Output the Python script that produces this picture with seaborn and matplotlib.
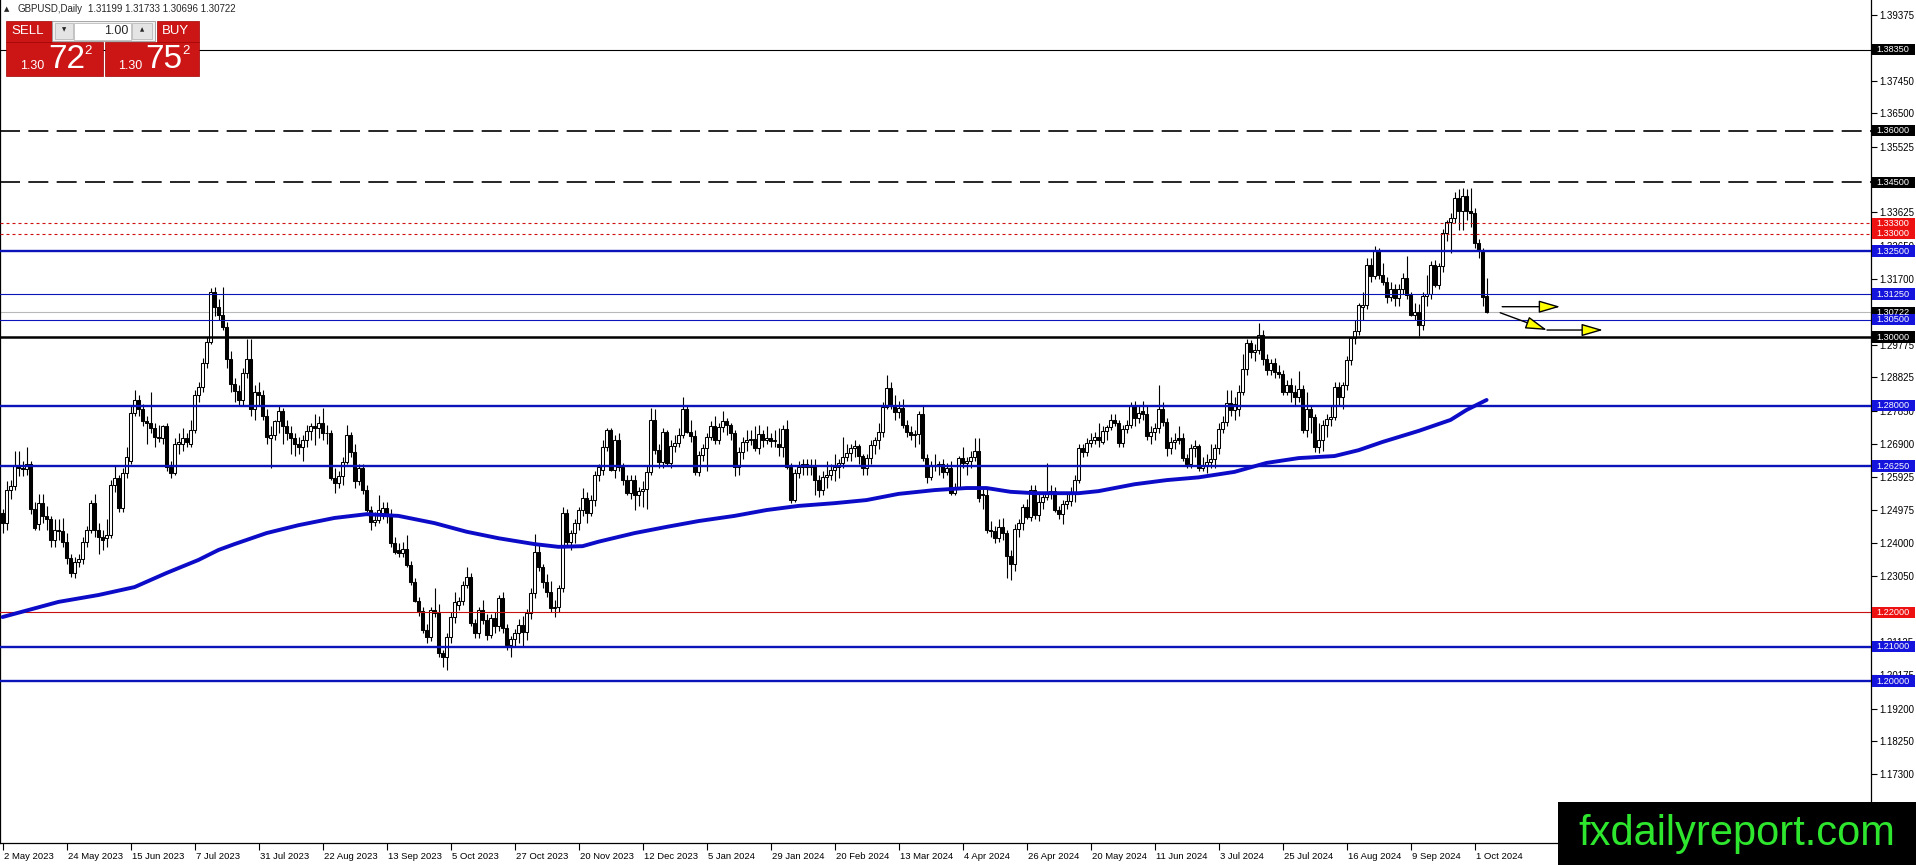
import numpy as np
import pandas as pd
import matplotlib
matplotlib.use("Agg")
import matplotlib.pyplot as plt
import matplotlib.transforms as mtrans
from matplotlib.patches import Rectangle
import seaborn as sns

sns.set_style("white")
plt.rcParams["font.family"] = ["Liberation Sans", "DejaVu Sans"]

# ---------------- data (prices in 1/10000) ----------------
opens = [
12487,12458,12555,12567,12625,12620,12615,12630,12500,12455,
12518,12480,12470,12410,12440,12435,12405,12357,12313,12345,
12355,12405,12440,12518,12440,12420,12415,12425,12570,12590,
12502,12605,12640,12780,12818,12790,12755,12750,12735,12705,
12705,12740,12623,12605,12690,12690,12705,12690,12730,12832,
12855,12925,12985,13130,13088,13065,13030,12935,12862,12842,
12818,12895,12935,12790,12840,12830,12770,12705,12715,12755,
12785,12740,12720,12705,12690,12680,12700,12728,12742,12735,
12750,12722,12720,12590,12575,12595,12637,12715,12667,12580,
12618,12555,12497,12463,12468,12487,12502,12480,12400,12380,
12373,12385,12337,12289,12233,12203,12148,12128,12206,12198,
12080,12070,12129,12187,12220,12232,12279,12303,12168,12139,
12206,12177,12133,12182,12160,12240,12153,12105,12121,12140,
12163,12143,12197,12255,12376,12332,12289,12260,12211,12216,
12269,12487,12405,12430,12458,12497,12531,12487,12526,12599,
12613,12681,12730,12613,12702,12623,12585,12546,12584,12541,
12552,12557,12609,12759,12671,12637,12725,12633,12683,12692,
12716,12792,12725,12712,12609,12657,12677,12710,12742,12701,
12737,12755,12745,12721,12623,12667,12696,12700,12703,12677,
12717,12701,12705,12698,12690,12679,12734,12623,12526,12604,
12623,12630,12622,12627,12585,12555,12594,12598,12613,12623,
12633,12652,12662,12677,12684,12654,12618,12647,12686,12700,
12725,12797,12851,12802,12783,12795,12744,12725,12715,12718,
12776,12647,12594,12628,12624,12630,12609,12620,12546,12565,
12648,12633,12640,12650,12669,12545,12540,12439,12435,12415,
12449,12429,12362,12340,12441,12458,12507,12478,12555,12482,
12521,12536,12545,12553,12497,12485,12516,12522,12550,12584,
12676,12667,12691,12700,12708,12695,12727,12738,12759,12751,
12691,12734,12745,12799,12764,12785,12777,12711,12725,12735,
12792,12754,12676,12695,12706,12706,12647,12632,12676,12684,
12618,12628,12636,12645,12676,12734,12754,12807,12788,12790,
12841,12906,12982,12957,12962,13006,12935,12904,12925,12899,
12893,12841,12860,12840,12826,12848,12730,12790,12768,12681,
12700,12744,12763,12768,12855,12825,12860,12934,12996,13018,
13088,13093,13209,13177,13253,13180,13161,13117,13141,13112,
13141,13171,13122,13064,13074,13035,13118,13125,13209,13151,
13205,13301,13335,13345,13403,13365,13410,13365,13360,13272,
13253,13120]

highs = [
12500,12580,12585,12668,12668,12640,12680,12640,12520,12545,
12545,12510,12480,12470,12470,12475,12430,12370,12360,12370,
12420,12450,12525,12545,12460,12440,12470,12585,12625,12600,
12620,12680,12800,12845,12830,12805,12770,12840,12750,12745,
12745,12750,12640,12705,12720,12735,12720,12760,12845,12870,
12940,13000,13142,13145,13110,13145,13045,12960,12880,12860,
12910,12995,12995,12860,12870,12845,12790,12740,12760,12800,
12795,12760,12740,12720,12710,12715,12745,12750,12775,12770,
12795,12745,12730,12620,12610,12650,12745,12725,12690,12630,
12630,12570,12510,12490,12540,12520,12520,12500,12420,12400,
12405,12425,12350,12300,12245,12215,12165,12215,12270,12225,
12090,12140,12200,12260,12245,12290,12330,12315,12180,12215,
12235,12195,12195,12200,12250,12260,12165,12130,12150,12180,
12190,12210,12270,12428,12395,12340,12310,12290,12235,12280,
12505,12500,12440,12470,12505,12560,12550,12540,12610,12630,
12700,12735,12735,12715,12720,12635,12600,12600,12600,12565,
12580,12625,12795,12790,12690,12735,12730,12700,12715,12735,
12827,12800,12760,12730,12670,12690,12720,12755,12770,12750,
12785,12765,12750,12730,12680,12710,12730,12730,12740,12745,
12730,12740,12720,12730,12735,12745,12760,12635,12615,12640,
12645,12645,12645,12645,12600,12610,12640,12630,12660,12645,
12710,12690,12690,12700,12690,12660,12660,12700,12710,12750,
12810,12890,12870,12830,12815,12820,12760,12740,12730,12785,
12803,12660,12640,12660,12640,12645,12635,12640,12575,12655,
12680,12650,12670,12706,12705,12560,12560,12465,12450,12470,
12475,12440,12380,12455,12470,12515,12530,12570,12570,12545,
12545,12634,12570,12565,12510,12525,12545,12565,12600,12690,
12690,12705,12720,12725,12750,12740,12745,12775,12775,12760,
12745,12760,12810,12815,12800,12815,12800,12740,12750,12860,
12810,12765,12710,12720,12740,12720,12660,12690,12700,12690,
12650,12660,12690,12690,12750,12770,12845,12845,12825,12860,
12950,12995,12990,12980,13040,13020,12950,12935,12940,12920,
12905,12875,12880,12860,12900,12860,12840,12800,12775,12750,
12760,12775,12800,12870,12870,12870,12945,13000,13050,13100,
13130,13230,13230,13264,13260,13215,13175,13160,13155,13155,
13185,13236,13130,13100,13095,13130,13180,13220,13225,13215,
13315,13340,13360,13423,13430,13434,13430,13434,13375,13285,
13260,13173]

lows = [
12430,12440,12530,12555,12595,12595,12600,12485,12440,12440,
12460,12440,12390,12390,12410,12390,12340,12303,12300,12330,
12340,12390,12430,12420,12370,12380,12390,12415,12550,12490,
12490,12590,12630,12770,12770,12740,12690,12720,12680,12695,
12690,12610,12590,12600,12660,12670,12680,12680,12720,12810,
12840,12910,12980,13060,13050,13020,12910,12840,12810,12800,
12800,12880,12770,12760,12800,12760,12690,12620,12700,12720,
12690,12700,12660,12655,12660,12640,12680,12700,12685,12705,
12700,12690,12585,12548,12560,12570,12630,12650,12560,12570,
12545,12490,12440,12450,12460,12470,12460,12390,12370,12360,
12360,12330,12280,12230,12190,12140,12110,12115,12185,12070,
12040,12032,12110,12170,12205,12220,12270,12160,12125,12125,
12165,12120,12125,12140,12145,12140,12090,12070,12100,12110,
12100,12120,12180,12240,12320,12270,12245,12200,12185,12200,
12260,12395,12380,12400,12440,12480,12460,12480,12510,12580,
12600,12670,12610,12590,12610,12570,12540,12530,12497,12510,
12505,12500,12600,12660,12620,12620,12625,12620,12665,12680,
12705,12720,12695,12600,12595,12640,12610,12700,12690,12690,
12725,12715,12700,12595,12600,12645,12670,12685,12670,12660,
12680,12690,12680,12680,12655,12650,12615,12517,12520,12590,
12600,12600,12600,12540,12535,12540,12560,12585,12580,12590,
12620,12640,12640,12650,12630,12600,12600,12630,12660,12675,
12710,12790,12790,12760,12765,12735,12710,12700,12680,12690,
12640,12575,12585,12610,12600,12590,12600,12540,12540,12560,
12620,12600,12620,12640,12520,12500,12430,12420,12400,12405,
12410,12300,12295,12320,12420,12440,12470,12465,12470,12465,
12500,12525,12530,12490,12470,12455,12500,12510,12520,12575,
12650,12655,12680,12690,12680,12690,12700,12730,12740,12680,
12680,12720,12735,12740,12750,12760,12700,12690,12700,12720,
12740,12655,12660,12675,12690,12640,12620,12620,12650,12610,
12610,12605,12620,12620,12660,12720,12740,12770,12760,12770,
12830,12890,12940,12930,12950,12920,12890,12890,12880,12880,
12830,12830,12810,12800,12810,12720,12710,12720,12665,12662,
12670,12710,12740,12760,12800,12790,12845,12920,12980,13005,
13050,13080,13160,13170,13170,13150,13100,13105,13090,13090,
13125,13110,13060,13050,13002,13020,13090,13110,13145,13140,
13190,13280,13245,13330,13312,13312,13340,13320,13260,13230,
13090,13070]

closes = [
12458,12555,12567,12625,12620,12615,12630,12500,12445,12518,
12480,12470,12410,12440,12435,12405,12357,12313,12345,12355,
12405,12440,12518,12440,12420,12410,12425,12570,12590,12502,
12605,12650,12780,12818,12790,12755,12750,12735,12710,12710,
12740,12623,12605,12690,12695,12705,12695,12730,12832,12855,
12925,12985,13130,13088,13065,13030,12935,12862,12842,12818,
12895,12935,12790,12840,12830,12770,12710,12715,12755,12785,
12740,12720,12705,12690,12680,12700,12728,12742,12735,12750,
12722,12720,12590,12575,12595,12637,12715,12667,12580,12618,
12555,12497,12463,12468,12497,12502,12480,12400,12376,12373,
12385,12337,12289,12233,12203,12148,12128,12206,12198,12080,
12070,12129,12187,12231,12232,12279,12303,12168,12139,12206,
12177,12133,12182,12160,12240,12153,12105,12121,12140,12163,
12143,12197,12255,12376,12332,12289,12260,12211,12216,12269,
12487,12405,12430,12458,12497,12531,12487,12526,12599,12623,
12681,12730,12613,12702,12623,12585,12546,12584,12541,12552,
12557,12609,12759,12671,12637,12725,12633,12683,12692,12716,
12792,12725,12712,12609,12657,12677,12710,12742,12701,12737,
12755,12745,12721,12623,12667,12696,12700,12703,12677,12717,
12701,12705,12698,12702,12679,12734,12623,12526,12604,12623,
12630,12622,12627,12585,12555,12594,12598,12613,12623,12633,
12652,12662,12677,12684,12654,12618,12647,12686,12700,12725,
12797,12851,12802,12783,12795,12744,12725,12715,12718,12776,
12647,12594,12628,12624,12630,12609,12620,12546,12565,12648,
12633,12640,12650,12669,12531,12540,12439,12435,12415,12449,
12429,12362,12340,12441,12458,12507,12478,12555,12482,12521,
12536,12545,12553,12497,12485,12516,12522,12550,12584,12676,
12667,12691,12700,12708,12700,12727,12738,12759,12751,12691,
12734,12745,12799,12764,12780,12777,12711,12725,12735,12792,
12754,12676,12695,12702,12700,12647,12632,12676,12684,12618,
12628,12636,12645,12676,12734,12754,12807,12788,12805,12841,
12906,12982,12957,12962,13006,12935,12904,12925,12899,12893,
12841,12860,12840,12826,12848,12730,12790,12768,12681,12700,
12744,12763,12768,12855,12825,12860,12934,12996,13018,13093,
13093,13209,13177,13253,13180,13161,13117,13141,13112,13141,
13171,13122,13064,13074,13035,13118,13125,13209,13151,13205,
13301,13335,13345,13403,13365,13410,13365,13360,13272,13253,
13117,13072]

# moving average (bar index, value)
ma_bars = [0, 14, 24, 33, 41, 49, 54, 58, 66, 74, 83, 91, 99, 108, 116, 124,
           133, 139, 145, 149, 158, 166, 174, 183, 191, 199, 208, 216, 224,
           233, 241, 246, 252, 258, 269, 274, 283, 291, 299, 308, 316, 324,
           333, 339, 345, 354, 362, 366, 371]
ma_vals = [1.2186, 1.2230, 1.2250, 1.2273, 1.2314, 1.2352, 1.2381, 1.2398,
           1.2430, 1.2453, 1.2474, 1.2485, 1.2480, 1.2459, 1.2434, 1.2415,
           1.2398, 1.2390, 1.2392, 1.2405, 1.2430, 1.2448, 1.2465, 1.2480,
           1.2497, 1.2509, 1.2517, 1.2526, 1.2544, 1.2555, 1.2561, 1.2561,
           1.2550, 1.2546, 1.2546, 1.2552, 1.2572, 1.2584, 1.2592, 1.2608,
           1.2634, 1.2648, 1.2654, 1.2671, 1.2695, 1.2727, 1.2759, 1.2788,
           1.2817]

date_labels = ["2 May 2023", "24 May 2023", "15 Jun 2023", "7 Jul 2023",
               "31 Jul 2023", "22 Aug 2023", "13 Sep 2023", "5 Oct 2023",
               "27 Oct 2023", "20 Nov 2023", "12 Dec 2023", "5 Jan 2024",
               "29 Jan 2024", "20 Feb 2024", "13 Mar 2024", "4 Apr 2024",
               "26 Apr 2024", "20 May 2024", "11 Jun 2024", "3 Jul 2024",
               "25 Jul 2024", "16 Aug 2024", "9 Sep 2024", "1 Oct 2024"]
date_bars = [0, 16, 32, 48, 64, 80, 96, 112, 128, 144, 160, 176, 192, 208,
             224, 240, 256, 272, 288, 304, 320, 336, 352, 368]

price_ticks = [1.39375, 1.38425, 1.37450, 1.36500, 1.35525, 1.34575, 1.33625,
               1.32650, 1.31700, 1.30725, 1.29775, 1.28825, 1.27850, 1.26900,
               1.25925, 1.24975, 1.24000, 1.23050, 1.22075, 1.21125, 1.20175,
               1.19200, 1.18250, 1.17300, 1.16350]
# tick labels that the price boxes hide completely in the reference
hidden_ticks = [1.38425, 1.34575, 1.30725, 1.22075, 1.16350]

level_prices = [1.3835, 1.3600, 1.3450, 1.3330, 1.3300, 1.3250, 1.3125,
                1.3050, 1.3000, 1.2800, 1.2625, 1.2200, 1.2100, 1.2000]
level_kinds = ["black_thin", "black_dash", "black_dash", "red_dot", "red_dot",
               "blue_thick", "blue_thin", "blue_thin", "black_thick",
               "blue_thick", "blue_thick", "red_thin", "blue_thick",
               "blue_thick"]
current_price = 1.30722

arrow_from = [(374.9, 1.30881), (374.4, 1.30706), (386.1, 1.30203)]
arrow_to = [(389.4, 1.30881), (386.1, 1.30203), (400.1, 1.30203)]

# ---------------- figure ----------------
W, H = 1916, 865
fig = plt.figure(figsize=(W / 100, H / 100), dpi=100)
fig.patch.set_facecolor("white")
ax = fig.add_axes([0, (H - 843) / H, 1871 / W, 843 / H])
ax.set_facecolor("white")

df = pd.DataFrame({"bar": np.arange(len(closes)),
                   "open": np.array(opens) / 1e4, "high": np.array(highs) / 1e4,
                   "low": np.array(lows) / 1e4, "close": np.array(closes) / 1e4})
up = df["close"] >= df["open"]
body_lo = np.minimum(df["open"], df["close"])
body_h = np.maximum((df["close"] - df["open"]).abs(), 0.00004)

BLUE = "#0b14b8"
styles = {
    "black_thin": dict(color="black", lw=0.8, ls="-"),
    "black_dash": dict(color="black", lw=1.2, ls=(0, (12, 5))),
    "red_dot": dict(color="#d01010", lw=0.8, ls=(0, (2.7, 2.7))),
    "blue_thick": dict(color=BLUE, lw=1.7, ls="-"),
    "blue_thin": dict(color=BLUE, lw=0.8, ls="-"),
    "black_thick": dict(color="black", lw=1.8, ls="-"),
    "red_thin": dict(color="#c81010", lw=0.8, ls="-"),
}

ax.axhline(current_price, color="#b8b8b8", lw=0.8, zorder=1)

ax.vlines(df["bar"], df["low"], df["high"], color="black", lw=0.8, zorder=3)
ax.bar(df["bar"][up], body_h[up], bottom=body_lo[up], width=0.62,
       color="white", edgecolor="black", linewidth=0.75, zorder=4)
ax.bar(df["bar"][~up], body_h[~up], bottom=body_lo[~up], width=0.62,
       color="black", edgecolor="black", linewidth=0.75, zorder=4)

for p, k in zip(level_prices, level_kinds):
    s = styles[k]
    ax.axhline(p, color=s["color"], lw=s["lw"], ls=s["ls"], zorder=5)

sns.lineplot(x=ma_bars, y=ma_vals, ax=ax, color="#0c0cc8", linewidth=2.8,
             zorder=6, legend=False)

for (x0, y0), (x1, y1) in zip(arrow_from, arrow_to):
    ax.annotate("", xy=(x1, y1), xytext=(x0, y0),
                arrowprops=dict(arrowstyle="-|>,head_length=1.2,head_width=0.35",
                                fc="#ffff00", ec="black", lw=1.0,
                                mutation_scale=11, shrinkA=0, shrinkB=0),
                zorder=8, annotation_clip=False)

ax.set_xlim(-0.625, 467.1)
ax.set_ylim(1.15291, 1.39797)

# axes styling
for side in ["left", "right", "bottom"]:
    ax.spines[side].set_visible(True)
    ax.spines[side].set_color("black")
    ax.spines[side].set_linewidth(0.9)
ax.spines["top"].set_visible(False)

ax.yaxis.tick_right()
ax.set_yticks(price_ticks)
ax.set_yticklabels(["" if t in hidden_ticks else f"{t:.5f}" for t in price_ticks])
ax.tick_params(axis="y", which="both", right=True, left=False, length=4,
               width=0.8, pad=2, labelsize=7.0, colors="black")
ax.set_xticks(date_bars)
ax.set_xticklabels(date_labels)
ax.tick_params(axis="x", bottom=True, length=5, width=0.8, pad=1.5,
               labelsize=6.8, colors="black")
offset = mtrans.ScaledTranslation(1.5 / 100, 0, fig.dpi_scale_trans)
for lab in ax.get_xticklabels():
    lab.set_horizontalalignment("left")
    lab.set_transform(lab.get_transform() + offset)
ax.set_xlabel("")
ax.set_ylabel("")
ax.grid(False)

# price label boxes on the right scale
label_boxes = [(1.38350, "#000000"), (1.36000, "#000000"), (1.34500, "#000000"),
               (1.33300, "#ee1111"), (1.33000, "#ee1111"), (1.32500, "#1414dc"),
               (1.31250, "#1414dc"), (current_price, "#000000"),
               (1.30500, "#1414dc"), (1.30000, "#000000"), (1.28000, "#1414dc"),
               (1.26250, "#1414dc"), (1.22000, "#ee1111"), (1.21000, "#1414dc"),
               (1.20000, "#1414dc")]
trans = mtrans.blended_transform_factory(ax.transAxes, ax.transData)
hh = 5.6 / 3440
for p, col in label_boxes:
    ax.add_patch(Rectangle((1.0005, p - hh), 0.0228, 2 * hh, transform=trans,
                           facecolor=col, edgecolor="none", clip_on=False,
                           zorder=10))
    ax.text(1.0028, p, f"{p:.5f}", transform=trans, color="white",
            fontsize=6.6, va="center", ha="left", zorder=11, clip_on=False)

# ---------------- overlay (pixel coordinates) ----------------
ov = fig.add_axes([0, 0, 1, 1], zorder=20)
ov.set_xlim(0, W)
ov.set_ylim(H, 0)
ov.axis("off")
ov.patch.set_alpha(0)

ov.text(4, 9, "\u25B2", fontsize=5, va="center", ha="left",
        family=["DejaVu Sans"])
ov.text(18, 9.5, "GBPUSD,Daily", fontsize=7.0, va="center", ha="left")
ov.text(88, 9.5, "1.31199 1.31733 1.30696 1.30722", fontsize=7.0,
        va="center", ha="left")

RED = "#cc1515"
ov.add_patch(Rectangle((6, 21), 46, 20.5, facecolor=RED, edgecolor="#a00000", lw=0.5))
ov.add_patch(Rectangle((157, 21), 42, 20.5, facecolor=RED, edgecolor="#a00000", lw=0.5))
ov.add_patch(Rectangle((52, 21), 103, 20, facecolor="#f0f0f0", edgecolor="#9a9a9a", lw=0.6))
ov.add_patch(Rectangle((55, 23), 18, 16, facecolor="#e4e4e4", edgecolor="#b0b0b0", lw=0.5))
ov.add_patch(Rectangle((74, 22.5), 57, 17, facecolor="white", edgecolor="#b0b0b0", lw=0.5))
ov.add_patch(Rectangle((132, 23), 20, 16, facecolor="#e4e4e4", edgecolor="#b0b0b0", lw=0.5))
ov.add_patch(Rectangle((6, 42), 97, 33.5, facecolor=RED, edgecolor="#a00000", lw=0.5))
ov.add_patch(Rectangle((105, 42), 94, 33.5, facecolor=RED, edgecolor="#a00000", lw=0.5))
ov.text(28, 31.5, "SELL", color="white", fontsize=9.5, ha="center", va="center")
ov.text(175, 31.5, "BUY", color="white", fontsize=9.5, ha="center", va="center")
ov.text(64, 30, "\u25BC", fontsize=4, ha="center", va="center", family=["DejaVu Sans"])
ov.text(142, 30, "\u25B2", fontsize=4, ha="center", va="center", family=["DejaVu Sans"])
ov.text(128, 30.5, "1.00", fontsize=9, ha="right", va="center")
ov.text(32, 66, "1.30", color="white", fontsize=9, ha="center", va="center")
ov.text(67, 59, "72", color="white", fontsize=24, ha="center", va="center")
ov.text(88, 50.5, "2", color="white", fontsize=9.5, ha="center", va="center")
ov.text(130, 66, "1.30", color="white", fontsize=9, ha="center", va="center")
ov.text(164, 59, "75", color="white", fontsize=24, ha="center", va="center")
ov.text(186, 50.5, "2", color="white", fontsize=9.5, ha="center", va="center")

# watermark
ov.add_patch(Rectangle((1558, 802), W - 1558, H - 802, facecolor="black",
                       edgecolor="none"))
ov.text(1737, 834, "fxdailyreport.com", color="#2ee62e", fontsize=30,
        ha="center", va="center")

fig.savefig("out.png", dpi=100, facecolor="white")
